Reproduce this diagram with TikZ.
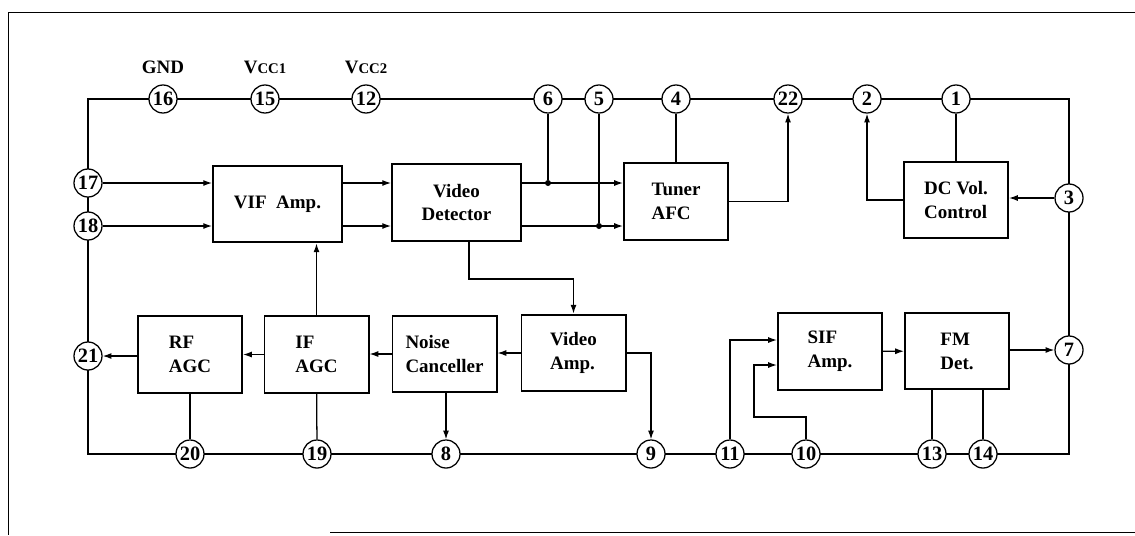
\documentclass[tikz,border=0pt]{standalone}
\usepackage{fontspec}
\setmainfont{Liberation Serif}
\usetikzlibrary{arrows.meta,positioning,calc}

\begin{document}
\begin{tikzpicture}[x=0.025cm, y=-0.025cm, >={Latex[length=2.2mm,width=1.5mm]},
  font=\fontsize{13.5}{17}\selectfont\bfseries,
  blk/.style={draw, line width=1.4pt, align=left, minimum width=2.6cm, minimum height=1.92cm, inner sep=0pt},
  wide/.style={blk, minimum width=3.22cm},
  pad/.style={circle, draw, fill=white, line width=0.9pt, minimum size=0.7cm, inner sep=0pt, font=\fontsize{14.5}{14.5}\selectfont\bfseries},
  wire/.style={line width=0.9pt},
  sig/.style={wire, ->},
  dot/.style={circle, fill, inner sep=0pt, minimum size=0.15cm},
  lbl/.style={inner sep=0pt}]
  \useasboundingbox (0,0) rectangle (1135,535);
  % page frame
  \draw[line width=0.7pt] (1135,12) -- (8,12) -- (8,535);
  \draw[line width=0.7pt] (330,532) -- (1135,532);
  % package outline
  \draw[line width=1.2pt] (88,99) rectangle (1069,454);
  \foreach \n/\x/\y in {16/163/99, 15/265/99, 12/366/99, 6/548/99, 5/599/99, 4/676/99,
      22/788/99, 2/867/99, 1/956/99, 17/88/183, 18/88/226, 21/88/356, 3/1069/198,
      7/1069/350, 20/190/454, 19/317/454, 8/446/454, 9/651/454, 11/730/454,
      10/806/454, 13/932/454, 14/983/454}
    \node[pad] (p\n) at (\x,\y) {\n};
  \node[lbl, above=0.25cm of p16] (gnd) {GND};
  \node[lbl, above=0.25cm of p15] (vcc1) {V{\fontsize{10.5}{10}\selectfont CC1}};
  \node[lbl, above=0.25cm of p12] (vcc2) {V{\fontsize{10.5}{10}\selectfont CC2}};
  % blocks
  \node[wide] (vif) at (277.5,204) {VIF\ \ Amp.};
  \node[wide, align=center] (vdet) at (456.5,202.5) {Video\\Detector};
  \node[blk] (afc) at (676,201.5) {Tuner\\AFC};
  \node[blk] (dcv) at (956,200) {DC Vol.\\Control};
  \node[blk] (rfagc) at (190,354.5) {RF\\AGC};
  \node[blk] (ifagc) at (316.5,354.5) {IF\\AGC};
  \node[blk] (nc) at (444.5,354) {Noise\\Canceller};
  \node[blk] (vamp) at (573.5,353) {Video\\Amp.};
  \node[blk] (sif) at (830,351.5) {SIF\\Amp.};
  \node[blk] (fmdet) at (957,351) {FM\\Det.};
  % upper row
  \draw[sig] (p17) -- (p17 -| vif.west);
  \draw[sig] (p18) -- (p18 -| vif.west);
  \draw[sig] (vif.east |- p17) -- (vdet.west |- p17);
  \draw[sig] (vif.east |- p18) -- (vdet.west |- p18);
  \draw[sig] (vdet.east |- p17) -- (afc.west |- p17);
  \draw[sig] (vdet.east |- p18) -- (afc.west |- p18);
  \node[dot] (j6) at (p6 |- p17) {};
  \node[dot] (j5) at (p5 |- p18) {};
  \draw[wire] (p6) -- (j6);
  \draw[wire] (p5) -- (j5);
  \draw[wire] (p4) -- (afc);
  \draw[sig] (afc.east) -| (p22);
  \draw[wire] (p1) -- (dcv);
  \draw[sig] (dcv.west) -| (p2);
  \draw[sig] (p3) -- (p3 -| dcv.east);
  \draw[sig] (ifagc.north) -- (ifagc.north |- vif.south);
  \coordinate (vdtap) at (469,279);
  \draw[sig] (vdet.south -| vdtap) -- (vdtap) -| (vamp.north);
  % lower row
  \draw[sig] (vamp.west) -- (vamp.west -| nc.east);
  \draw[sig] (nc.west) -- (nc.west -| ifagc.east);
  \draw[sig] (ifagc.west) -- (ifagc.west -| rfagc.east);
  \draw[sig] (rfagc.west |- p21) -- (p21);
  \draw[wire] (rfagc) -- (p20);
  \draw[wire] (ifagc) -- (p19);
  \draw[sig] (p8 |- nc.south) -- (p8);
  \draw[sig] (vamp.east) -| (p9);
  \draw[sig] (p11) |- ($(sif.west)+(0,-11.5)$);
  \coordinate (sifret) at (754,417);
  \draw[sig] (p10) |- (sifret) |- ($(sif.west)+(0,13.5)$);
  \draw[sig] (sif) -- (fmdet);
  \draw[sig] (fmdet.east |- p7) -- (p7);
  \draw[wire] (p13) -- (p13 |- fmdet.south);
  \draw[wire] (p14) -- (p14 |- fmdet.south);
\end{tikzpicture}
\end{document}
